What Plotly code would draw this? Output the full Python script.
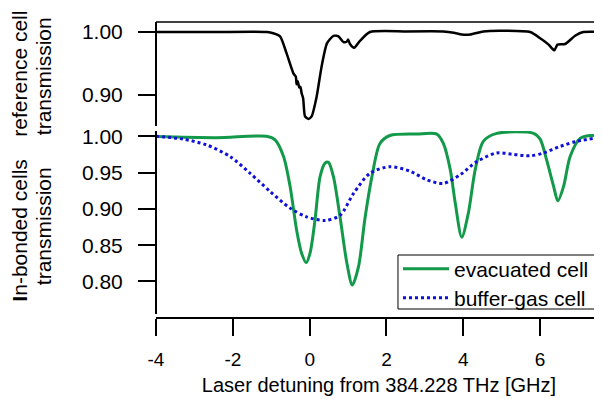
import plotly.graph_objects as go

# Reference cell transmission (top panel)
ref_x = [-4.0, -2.5, -1.10, -0.95, -0.77, -0.60, -0.42, -0.36, -0.34, -0.31, -0.27, -0.24, -0.21, -0.17,
         -0.12, -0.03, 0.05, 0.18, 0.31, 0.45, 0.62, 0.75, 0.88, 0.97, 1.00, 1.05, 1.16, 1.31,
         1.57, 2.5, 3.48, 3.75, 3.96, 4.18, 4.52, 4.96, 5.74, 6.0, 6.22, 6.37, 6.45, 6.65,
         6.91, 7.12, 7.61]
ref_y = [1.000, 1.000, 1.000, 0.998, 0.993, 0.966, 0.934, 0.929, 0.917, 0.922, 0.912, 0.913, 0.903, 0.895,
         0.866, 0.862, 0.866, 0.897, 0.945, 0.982, 0.994, 0.993, 0.984, 0.985, 0.988, 0.981, 0.975, 0.986,
         1.000, 1.001, 1.001, 0.999, 0.996, 0.996, 1.001, 1.002, 1.000, 0.990, 0.980, 0.971, 0.980, 0.981,
         0.994, 1.000, 1.000]

# Evacuated cell transmission (lower panel)
evac_x = [-4.0, -2.42, -1.12, -0.90, -0.68, -0.51, -0.34, -0.21, -0.09, 0.01, 0.14, 0.27, 0.40, 0.49,
          0.62, 0.79, 0.97, 1.11, 1.27, 1.44, 1.62, 1.83, 2.09, 2.79, 3.31, 3.48, 3.66, 3.79,
          3.96, 4.13, 4.31, 4.52, 4.87, 5.83, 6.0, 6.17, 6.35, 6.46, 6.61, 6.78, 7.04, 7.30, 7.61]
evac_y = [0.9995, 0.998, 1.000, 0.995, 0.972, 0.931, 0.871, 0.839, 0.826, 0.839, 0.885, 0.944, 0.963, 0.964,
          0.944, 0.889, 0.825, 0.795, 0.820, 0.887, 0.944, 0.990, 1.001, 1.003, 1.003, 0.990, 0.954, 0.908,
          0.861, 0.894, 0.954, 0.993, 1.004, 1.004, 0.996, 0.967, 0.931, 0.911, 0.931, 0.972, 0.997, 1.001, 1.000]

# Buffer-gas cell transmission (lower panel)
buf_x = [-4.0, -3.29, -2.68, -2.07, -1.55, -1.03, -0.51, -0.08, 0.40, 0.79, 1.14, 1.57, 2.09, 2.61,
         3.05, 3.48, 3.92, 4.35, 4.87, 5.30, 5.74, 6.09, 6.52, 6.96, 7.61]
buf_y = [1.000, 0.996, 0.988, 0.972, 0.949, 0.924, 0.901, 0.889, 0.884, 0.891, 0.921, 0.949, 0.958, 0.952,
         0.940, 0.935, 0.947, 0.965, 0.977, 0.975, 0.973, 0.977, 0.986, 0.993, 0.999]

x_ticks = [-4, -2, 0, 2, 4, 6]
low_ticks = [0.80, 0.85, 0.90, 0.95, 1.00]
top_ticks = [0.90, 1.00]

FONT = "Liberation Sans, Arial, sans-serif"
GREEN = "#13994a"
BLUE = "#1010d8"

fig = go.Figure()
fig.add_trace(go.Scatter(x=ref_x, y=ref_y, yaxis="y2", mode="lines",
                         line=dict(color="black", width=2.5, shape="spline", smoothing=0.6),
                         showlegend=False))
fig.add_trace(go.Scatter(x=evac_x, y=evac_y, yaxis="y", mode="lines", name="evacuated cell",
                         legend="legend",
                         line=dict(color=GREEN, width=3, shape="spline", smoothing=0.8)))
fig.add_trace(go.Scatter(x=buf_x, y=buf_y, yaxis="y", mode="lines", name="buffer-gas cell",
                         legend="legend2",
                         line=dict(color=BLUE, width=3, dash="dot", shape="spline", smoothing=0.8)))

axis_common = dict(showline=True, linecolor="black", linewidth=2, ticks="outside", ticklen=17,
                   tickwidth=2, tickcolor="black", showgrid=False, zeroline=False, automargin=False,
                   anchor="free", position=0, ticklabelstandoff=11,
                   tickfont=dict(family=FONT, size=21, color="black"))

legend_common = dict(xanchor="left", yanchor="middle", bgcolor="rgba(0,0,0,0)", borderwidth=0,
                     font=dict(family=FONT, size=21, color="black"), itemwidth=46)

# page body has an 8px margin, so the figure is 8px smaller and shifted
fig.update_layout(
    template="none",
    width=594, height=391,
    margin=dict(l=148, r=0, t=14, b=81, autoexpand=False),
    paper_bgcolor="white", plot_bgcolor="white",
    font=dict(family=FONT, color="black"),
    xaxis=dict(range=[-4, 7.61], tickvals=x_ticks, ticktext=[str(v) for v in x_ticks],
               anchor="free", position=0, showline=True, linecolor="black", linewidth=2,
               ticks="outside", ticklen=17, tickwidth=2, tickcolor="black", automargin=False,
               showgrid=False, zeroline=False, ticklabelstandoff=7,
               tickfont=dict(family=FONT, size=19, color="black"),
               title=dict(text="Laser detuning from 384.228 THz [GHz]", standoff=8,
                          font=dict(family=FONT, size=20, color="black"))),
    yaxis=dict(domain=[0.0135, 0.632], range=[0.7552, 1.0073], tickvals=low_ticks,
               ticktext=["%.2f" % v for v in low_ticks], **axis_common),
    yaxis2=dict(domain=[0.6486, 1.0], range=[0.8508, 1.0159], tickvals=top_ticks,
                ticktext=["%.2f" % v for v in top_ticks], **axis_common),
    legend=dict(x=0.5426, y=0.1655, **legend_common),
    legend2=dict(x=0.5426, y=0.0676, **legend_common),
    shapes=[dict(type="line", xref="paper", yref="paper", x0=0, x1=1, y0=1, y1=1,
                 line=dict(color="black", width=1.5)),
            dict(type="rect", xref="paper", yref="paper", x0=0.5426, x1=0.9955, y0=0.0304, y1=0.2128,
                 line=dict(color="black", width=1), fillcolor="white", layer="above")],
    annotations=[
        dict(text="reference cell", xref="paper", yref="paper", x=-0.308, y=(318 - 74) / 296,
             textangle=-90, showarrow=False, xanchor="center", yanchor="middle",
             font=dict(family=FONT, size=21, color="black")),
        dict(text="transmission", xref="paper", yref="paper", x=-0.253, y=(318 - 76) / 296,
             textangle=-90, showarrow=False, xanchor="center", yanchor="middle",
             font=dict(family=FONT, size=21, color="black")),
        dict(text="<b>I</b>n-bonded cells", xref="paper", yref="paper", x=-0.308, y=(318 - 231) / 296,
             textangle=-90, showarrow=False, xanchor="center", yanchor="middle",
             font=dict(family=FONT, size=21, color="black")),
        dict(text="transmission", xref="paper", yref="paper", x=-0.253, y=(318 - 226) / 296,
             textangle=-90, showarrow=False, xanchor="center", yanchor="middle",
             font=dict(family=FONT, size=21, color="black")),
    ],
)

fig.write_html("out.html")
